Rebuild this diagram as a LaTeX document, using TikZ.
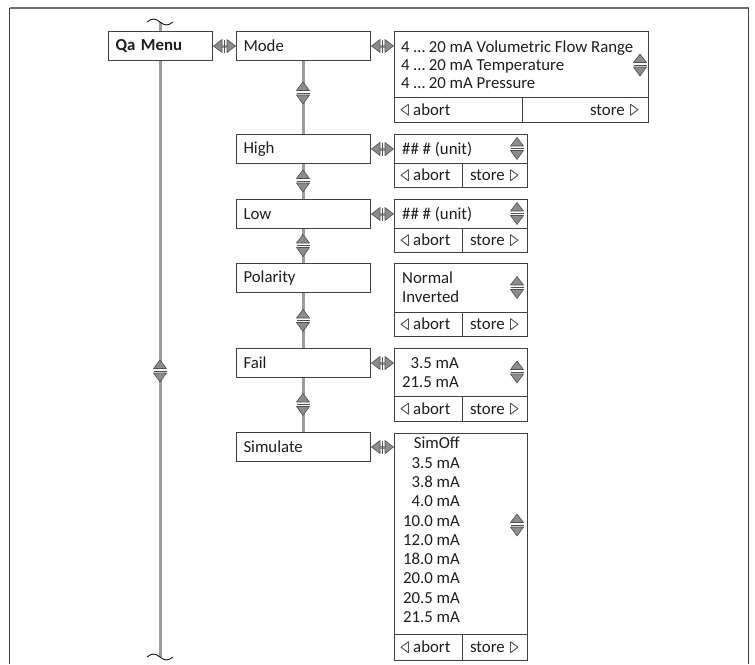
\documentclass[tikz,border=0pt]{standalone}
\usepackage{fontspec}
\setmainfont{Carlito}
\usetikzlibrary{calc}
\definecolor{boxc}{HTML}{404040}
\definecolor{linec}{HTML}{9C9C9C}
\definecolor{arrf}{HTML}{8C8C8C}
\definecolor{arrd}{HTML}{505050}
\definecolor{framec}{HTML}{6E6E6E}
\definecolor{txtc}{HTML}{1E1E1E}
\begin{document}
\begin{tikzpicture}[x=1pt,y=-1pt,
 every node/.style={font=\fontsize{16.8}{19.3}\selectfont, inner sep=0pt, text=txtc},
 mbox/.style={draw=boxc, line width=1pt, fill=white, anchor=north west, minimum height=29pt, inner xsep=7pt, inner ysep=0pt, text width=#1, align=left},
 cell/.style n args={2}{draw=boxc, line width=1pt, fill=white, anchor=north west, minimum width=#1, minimum height=#2, inner sep=0pt},
 conn/.style={draw=linec, line width=3pt},
 txt/.style={anchor=base west},
 rtxt/.style={anchor=base east},
 udarrows/.pic={
   \fill[white] (-6.5,-2.5) rectangle (6.5,2);
   \filldraw[fill=arrf, draw=arrd, line width=0.6pt, line join=round] (-6.5,-2.5) -- (0,-11) -- (6.5,-2.5) -- cycle;
   \draw[arrd, line width=0.7pt] (-6.5,0) -- (6.5,0);
   \filldraw[fill=arrf, draw=arrd, line width=0.6pt, line join=round] (-6.5,2) -- (0,11) -- (6.5,2) -- cycle;
 },
 lrarrows/.pic={
   \fill[linec] (-3,-1.5) rectangle (3,1.5);
   \filldraw[fill=arrf, draw=arrd, line width=0.6pt, line join=round] (-2.5,-6.5) -- (-11,0) -- (-2.5,6.5) -- cycle;
   \draw[arrd, line width=0.7pt] (0,-6.5) -- (0,6.5);
   \filldraw[fill=arrf, draw=arrd, line width=0.6pt, line join=round] (2.5,-6.5) -- (11,0) -- (2.5,6.5) -- cycle;
 },
 ltri/.pic={\filldraw[fill=white, draw=arrd, line width=0.9pt, line join=round] (0,0) -- (7.5,-5.5) -- (7.5,5.5) -- cycle;},
 rtri/.pic={\filldraw[fill=white, draw=arrd, line width=0.9pt, line join=round] (0,0) -- (-7.5,-5.5) -- (-7.5,5.5) -- cycle;},
 squig/.style={draw=black, line width=0.8pt}
]
\useasboundingbox (0,0) rectangle (755,664);
% frame
\draw[framec, line width=2.2pt] (9.5,8) -- (748.5,8);
\draw[boxc, line width=1.3pt] (9.8,8) -- (9.8,664);
\draw[boxc, line width=1.3pt] (748.5,8) -- (748.5,664);

% main vertical line
\coordinate (top) at (160,22);
\coordinate (bot) at (160,657);
\draw[conn] (top) -- (bot);
\draw[squig] ($(top)+(-13,0)$) sin ($(top)+(-6.5,-3)$) cos (top) sin ($(top)+(6.5,3)$) cos ($(top)+(13,0)$);
\draw[squig] ($(bot)+(-13,0)$) sin ($(bot)+(-6.5,-3)$) cos (bot) sin ($(bot)+(6.5,3)$) cos ($(bot)+(13,0)$);
\pic at (160,371) {udarrows};

% menu boxes
\node[mbox=90pt, font=\fontsize{16.8}{19.3}\selectfont\bfseries] (qa) at (108,31) {Qa Menu};
\node[mbox=120pt] (mode) at (236,31) {Mode};
\node[mbox=120pt] (high) at (236,134) {High};
\node[mbox=120pt] (low) at (236,199) {Low};
\node[mbox=120pt] (pol) at (236,263) {Polarity};
\node[mbox=120pt] (fail) at (236,348) {Fail};
\node[mbox=120pt] (sim) at (236,432) {Simulate};

% vertical connectors
\draw[conn] (mode.south) -- (high.north);
\draw[conn] (high.south) -- (low.north);
\draw[conn] (low.south) -- (pol.north);
\draw[conn] (pol.south) -- (fail.north);
\draw[conn] (fail.south) -- (sim.north);
\pic at (303,93) {udarrows};
\pic at (303,181) {udarrows};
\pic at (303,245.5) {udarrows};
\pic at (303,320.5) {udarrows};
\pic at (303,404.5) {udarrows};

% option boxes
\node[cell={254}{66}] (mopt) at (394,31) {};
\node[cell={128}{25}] (mab) at (394,97) {};
\node[cell={126}{25}] (mst) at (522,97) {};
\node[cell={133}{29}] (hopt) at (394,134) {};
\node[cell={68}{24}] (hab) at (394,163) {};
\node[cell={65}{24}] (hst) at (462,163) {};
\node[cell={133}{29}] (lopt) at (394,199) {};
\node[cell={68}{24}] (lab) at (394,228) {};
\node[cell={65}{24}] (lst) at (462,228) {};
\node[cell={133}{49}] (popt) at (394,263) {};
\node[cell={68}{24}] (pab) at (394,312) {};
\node[cell={65}{24}] (pst) at (462,312) {};
\node[cell={133}{48}] (fopt) at (394,348) {};
\node[cell={68}{25}] (fab) at (394,396) {};
\node[cell={65}{25}] (fst) at (462,396) {};
\node[cell={133}{201}] (sopt) at (394,433) {};
\node[cell={68}{26}] (sab) at (394,634) {};
\node[cell={65}{26}] (sst) at (462,634) {};

% left-right arrows
\pic at ($(qa.east)!0.5!(mode.west)$) {lrarrows};
\pic at ($(mode.east)!0.5!(mopt.west |- mode.east)$) {lrarrows};
\pic at ($(high.east)!0.5!(hopt.west)$) {lrarrows};
\pic at ($(low.east)!0.5!(lopt.west)$) {lrarrows};
\pic at ($(fail.east)!0.5!(fopt.west |- fail.east)$) {lrarrows};
\pic at ($(sim.east)!0.5!(sopt.west |- sim.east)$) {lrarrows};

% texts in option boxes
\node[txt] (m1) at (401,52.5) {4 … 20 mA Volumetric Flow Range};
\node[txt] (m2) at (401,70.5) {4 … 20 mA Temperature};
\node[txt] (m3) at (401,88.5) {4 … 20 mA Pressure};
\pic at (640,65) {udarrows};
\node[txt] (h1) at (402,154) {\#\# \# (unit)};
\pic at (517,148.5) {udarrows};
\node[txt] (l1) at (402,219) {\#\# \# (unit)};
\pic at (517,213.5) {udarrows};
\node[txt] (p1) at (402,283.5) {Normal};
\node[txt] (p2) at (402,302.5) {Inverted};
\pic at (517,287.5) {udarrows};
\node[rtxt] (f1) at (459,368.5) {3.5 mA};
\node[rtxt] (f2) at (459,387.5) {21.5 mA};
\pic at (517,372) {udarrows};
\node[anchor=north east, align=right] (s1) at (460,437) {SimOff\\3.5 mA\\3.8 mA\\4.0 mA\\10.0 mA\\12.0 mA\\18.0 mA\\20.0 mA\\20.5 mA\\21.5 mA};
\pic at (517,525) {udarrows};

% abort / store
\foreach \nm/\yy/\sx/\stx in {m/115/638/625, h/180.5/518/505, l/245.5/518/505, p/329.5/518/505, f/414/518/505, s/652.5/518/505}{
  \pic at (401,\yy-5.3) {ltri};
  \node[txt] (\nm abt) at (413,\yy) {abort};
  \node[rtxt] (\nm sto) at (\stx,\yy) {store};
  \pic at (\sx,\yy-5.3) {rtri};
}
\end{tikzpicture}
\end{document}
